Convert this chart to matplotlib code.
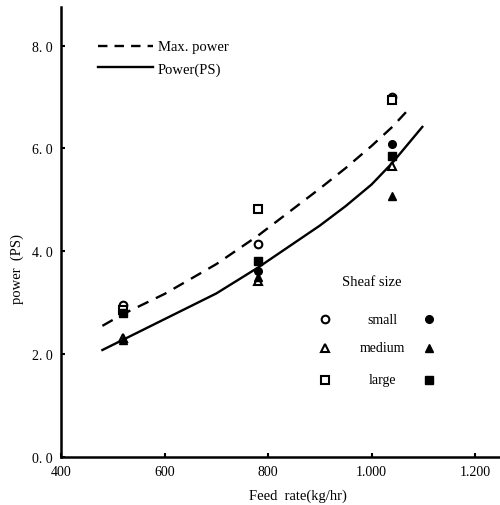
import matplotlib
matplotlib.use("Agg")
import matplotlib.pyplot as plt

plt.rcParams['font.family'] = ['Liberation Serif', 'DejaVu Serif']

# fitted curves
max_x = [480, 520, 600, 700, 780, 900, 950, 1000, 1040, 1075]
max_y = [2.55, 2.78, 3.17, 3.75, 4.30, 5.22, 5.62, 6.05, 6.42, 6.80]
pow_x = [480, 520, 600, 700, 780, 900, 950, 1000, 1040, 1098]
pow_y = [2.08, 2.28, 2.68, 3.18, 3.68, 4.50, 4.88, 5.30, 5.72, 6.42]

# measured points (open = max power, filled = power)
feed = [520, 780, 1040]
small_open = [2.95, 4.15, 7.0]
small_fill = [2.88, 3.62, 6.08]
medium_open = [2.32, 3.42, 5.65]
medium_fill = [2.27, 3.50, 5.08]
large_open = [2.85, 4.82, 6.95]
large_fill = [2.80, 3.82, 5.85]

xticks = [400, 600, 800, 1000, 1200]
xtick_labels = ['400', '600', '800', '1.000', '1.200']
yticks = [0, 2, 4, 6, 8]
ytick_labels = ['0. 0', '2. 0', '4. 0', '6. 0', '8. 0']

fig = plt.figure(figsize=(5, 5.06), dpi=100)
ax = fig.add_axes([0.122, 0.095, 0.878, 0.889])

ax.plot(max_x, max_y, color='black', lw=1.7, ls=(0, (5, 3.5)))
ax.plot(pow_x, pow_y, color='black', lw=1.7)

ms = 5.5
ax.plot(feed, small_open, 'o', mfc='white', mec='black', mew=1.5, ms=ms, ls='none')
ax.plot(feed, small_fill, 'o', color='black', ms=ms, ls='none')
ax.plot(feed, medium_open, '^', mfc='white', mec='black', mew=1.5, ms=ms, ls='none')
ax.plot(feed, medium_fill, '^', color='black', ms=ms, ls='none')
ax.plot(feed, large_open, 's', mfc='white', mec='black', mew=1.5, ms=ms, ls='none')
ax.plot(feed, large_fill, 's', color='black', ms=ms, ls='none')

ax.set_xlim(400, 1248)
ax.set_ylim(0, 8.75)
for s in ['top', 'right']:
    ax.spines[s].set_visible(False)
for s in ['left', 'bottom']:
    ax.spines[s].set_linewidth(1.8)
ax.set_xticks(xticks)
ax.set_xticklabels(xtick_labels)
ax.set_yticks(yticks)
ax.set_yticklabels(ytick_labels)
ax.tick_params(direction='in', length=3, width=1.5, labelsize=10, pad=6)

ax.set_xlabel('Feed  rate(kg/hr)', fontsize=10.5)
ax.xaxis.set_label_coords(0.54, -0.07)
ax.set_ylabel('power  (PS)', fontsize=10.5)
ax.yaxis.set_label_coords(-0.085, 0.42)

# line legend, in pixel coordinates of the figure
def px(x, y):
    return x / 500, 1 - y / 506

fig.add_artist(plt.Line2D([98 / 500, 153 / 500], [px(0, 47)[1]] * 2, color='black',
                          lw=1.7, ls=(0, (4, 3))))
fig.add_artist(plt.Line2D([98 / 500, 153 / 500], [px(0, 68)[1]] * 2, color='black', lw=1.7))
fig.text(*px(158, 47), 'Max. power', fontsize=10.5, va='center')
fig.text(*px(158, 70), 'Power(PS)', fontsize=10.5, va='center')

# sheaf size legend
fig.text(*px(372, 283), 'Sheaf size', fontsize=10.5, ha='center', va='center')
rows = [('small', 'o', 320), ('medium', '^', 349), ('large', 's', 381)]
for name, mk, yy in rows:
    fig.text(*px(382, yy), name, fontsize=10, ha='center', va='center')
    fig.add_artist(plt.Line2D([325 / 500], [px(0, yy)[1]], marker=mk, mfc='white',
                              mec='black', mew=1.5, ms=ms, ls='none'))
    fig.add_artist(plt.Line2D([429 / 500], [px(0, yy)[1]], marker=mk, color='black',
                              ms=ms, ls='none'))

fig.savefig('out.png', dpi=100)
